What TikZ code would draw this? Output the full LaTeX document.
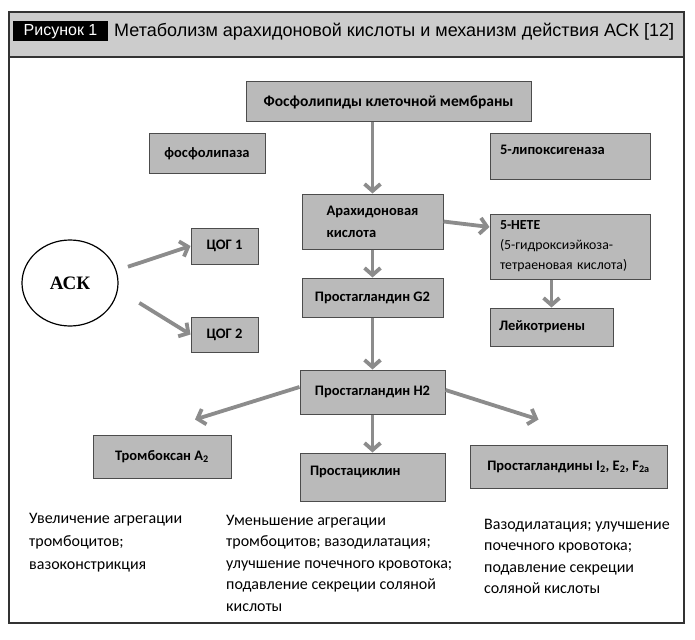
\documentclass[tikz,border=0pt]{standalone}
\usepackage{fontspec}
\setmainfont{Carlito}
\newfontfamily\headfont{Liberation Sans}
\newfontfamily\ackfont{Liberation Serif}
\usetikzlibrary{arrows.meta, shapes.geometric}

\tikzset{
  box/.style={draw=black!70, fill=black!27, line width=1pt, inner sep=0pt, align=left,
    font=\bfseries\fontsize{14.5}{22}\selectfont},
  arr/.style={draw=black!45, line width=3.8pt, -{Straight Barb[length=7pt, width=16pt]}},
  note/.style={anchor=north west, align=left, inner sep=0pt, font=\fontsize{16}{21.5}\selectfont},
}

\begin{document}
\begin{tikzpicture}[x=1pt, y=-1pt]
    \useasboundingbox (0,0) rectangle (695,639);

    % Draw the frame with its header band
    \draw[draw=black!80, fill=black!20, line width=1.8pt] (9,12) rectangle (684,57);
    \draw[draw=black!80, line width=1.8pt] (9,12) rectangle (684,623);
    \node[fill=black, text=white, minimum width=95pt, minimum height=20pt, inner sep=0pt,
      font=\headfont\fontsize{16}{16}\selectfont] (fig) at (60.5,31.5) {Рисунок 1};
    \node[anchor=west, inner sep=0pt, font=\headfont\fontsize{18}{18}\selectfont]
      (title) at (114,31.5) {Метаболизм арахидоновой кислоты и механизм действия АСК [12]};

    % Draw the boxes of the pathway
    \node[box, minimum width=285pt, minimum height=40pt, font=\bfseries\fontsize{15.5}{22}\selectfont]
      (memb) at (388.5,102) {Фосфолипиды клеточной мембраны};
    \node[box, minimum width=116pt, minimum height=40pt] (lipase) at (207,153.5) {фосфолипаза};
    \node[box, minimum width=160pt, minimum height=46pt, text width=140pt, text depth=14pt]
      (lox) at (570,156.5) {5-липоксигеназа};
    \node[box, minimum width=141pt, minimum height=55pt] (arach) at (372.5,221.5) {Арахидоновая\\кислота};
    \node[box, minimum width=160pt, minimum height=65pt, text width=140pt, font=\fontsize{13.8}{20}\selectfont]
      (hete) at (570,246.5) {\textbf{5-HETE}\\(5-гидроксиэйкоза-\\тетраеновая кислота)};
    \node[box, minimum width=141pt, minimum height=39pt] (g2) at (372.5,297.5) {Простагландин G2};
    \node[box, minimum width=123pt, minimum height=38pt, text width=105pt] (leuk) at (551.5,327) {Лейкотриены};
    \node[box, minimum width=67pt, minimum height=36pt] (cox1) at (224.5,246) {ЦОГ 1};
    \node[box, minimum width=67pt, minimum height=35pt] (cox2) at (224.5,334.5) {ЦОГ 2};
    \node[box, minimum width=145pt, minimum height=44pt] (h2) at (372.5,392) {Простагландин H2};
    \node[box, minimum width=138pt, minimum height=43pt] (thromb) at (162,456.5) {Тромбоксан A\textsubscript{2}};
    \node[box, minimum width=145pt, minimum height=48pt, text width=125pt, text depth=12pt]
      (cyclin) at (372.5,477) {Простациклин};
    \node[box, minimum width=197pt, minimum height=43pt] (pgs) at (568.5,466.5)
      {Простагландины I\textsubscript{2}, E\textsubscript{2}, F\textsubscript{2a}};

    % Draw the aspirin circle
    \node[draw, ellipse, line width=1.2pt, minimum width=96pt, minimum height=86pt,
      font=\ackfont\bfseries\fontsize{19}{19}\selectfont] (ack) at (70,283) {АСК};

    % Draw the arrows
    \draw[arr] (memb.south -| arach.north) -- (arach.north);
    \draw[arr] (arach.east) -- ([yshift=19.5pt]hete.west);
    \draw[arr] (arach.south) -- (g2.north);
    \draw[arr] (hete.south -| leuk.north) -- (leuk.north);
    \draw[arr] (g2.south) -- (h2.north);
    \draw[arr, shorten <=12pt] (ack.15) -- (cox1.west);
    \draw[arr, shorten <=25pt] (ack.-8) -- (cox2.west);
    \draw[arr] ([yshift=5pt]h2.west) -- ([xshift=33pt, yshift=15pt]thromb.north);
    \draw[arr] (h2.south) -- (cyclin.north);
    \draw[arr] ([yshift=2pt]h2.east) -- ([xshift=-30pt, yshift=25pt]pgs.north);

    % Draw the effects under the boxes
    \node[note, font=\fontsize{16}{23}\selectfont] (eff1) at (29,513) {Увеличение агрегации\\тромбоцитов;\\вазоконстрикция};
    \node[note] (eff2) at (226,515) {Уменьшение агрегации\\тромбоцитов; вазодилатация;\\улучшение почечного кровотока;\\подавление секреции соляной\\кислоты};
    \node[note] (eff3) at (484,519) {Вазодилатация; улучшение\\почечного кровотока;\\подавление секреции\\соляной кислоты};
\end{tikzpicture}
\end{document}
